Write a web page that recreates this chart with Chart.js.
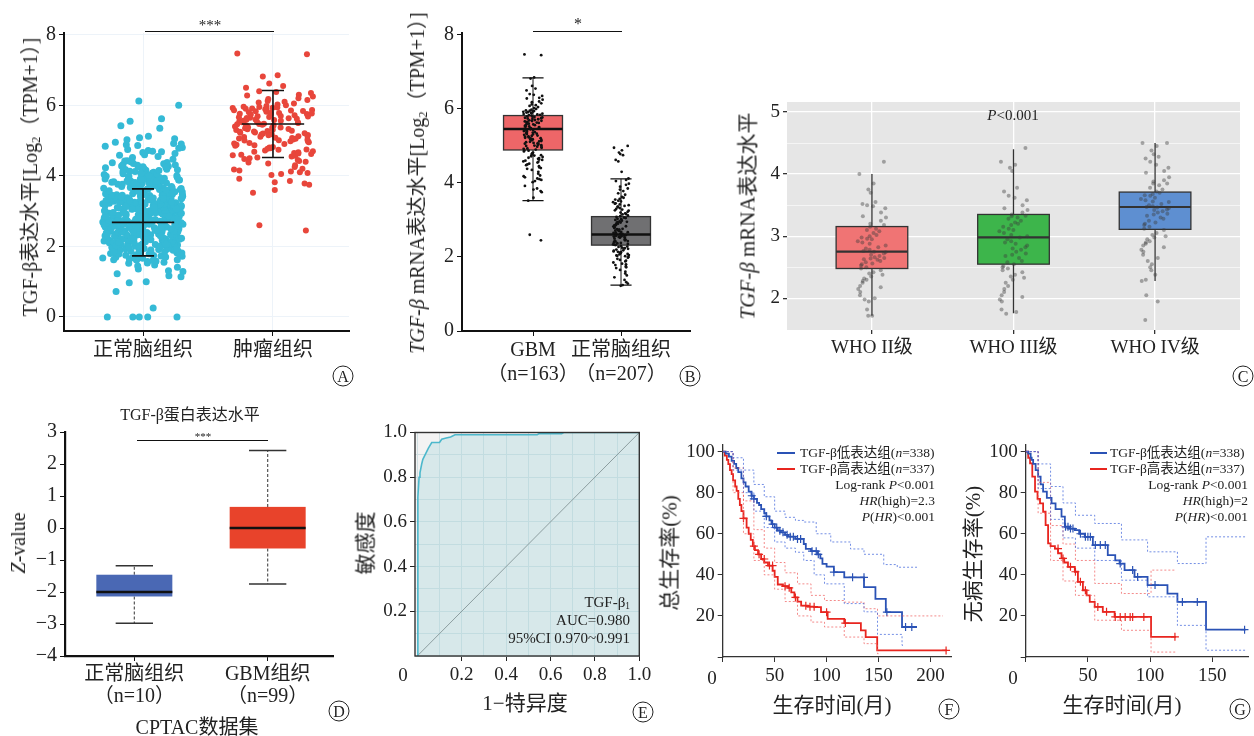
<!DOCTYPE html>
<html><head><meta charset="utf-8">
<script src="https://cdn.jsdelivr.net/npm/chart.js@4.4.0/dist/chart.umd.min.js"></script>
<style>
html,body{margin:0;padding:0;background:#fff;}
#root{position:relative;width:1254px;height:736px;overflow:hidden;font-family:'Liberation Serif','Noto Sans CJK SC',serif;color:#222;}
canvas{position:absolute;}
.t{position:absolute;white-space:nowrap;line-height:1;}
.rot{transform:translate(-50%,-50%) rotate(-90deg);}
.c{transform:translate(-50%,-50%);}
.r{transform:translate(-100%,-50%);}
.l{transform:translate(0,-50%);}
.circ{position:absolute;width:21px;height:21px;border:1.3px solid #222;border-radius:50%;box-sizing:border-box;font-size:16px;line-height:19px;text-align:center;transform:translate(-50%,-50%);font-family:'Liberation Serif',serif;}
.hl{position:absolute;height:0;border-top:1.8px solid #111;}
sub{font-size:0.62em;vertical-align:-0.25em;line-height:0;}
</style></head><body><div id="root">
<!-- Panel A texts -->
<div class="t c" style="left:210px;top:25px;font-size:15px;">***</div>
<div class="hl" style="left:145px;top:31px;width:129px;"></div>
<div class="t rot" style="left:30px;top:177px;font-size:20px;">TGF-β表达水平[Log<sub>2</sub>（TPM+1）]</div>
<div class="circ" style="left:343px;top:376px;">A</div>
<!-- Panel B texts -->
<div class="t c" style="left:578px;top:24px;font-size:16px;">*</div>
<div class="hl" style="left:533px;top:31px;width:89px;"></div>
<div class="t rot" style="left:417px;top:183px;font-size:20px;"><i>TGF-β</i> mRNA表达水平[Log<sub>2</sub>（TPM+1）]</div>
<div class="circ" style="left:690px;top:376px;">B</div>
<!-- Panel C texts -->
<div class="t c" style="left:1013px;top:115px;font-size:15px;"><i>P</i>&lt;0.001</div>
<div class="t rot" style="left:748px;top:216px;font-size:21px;"><i>TGF-β</i> mRNA表达水平</div>
<div class="circ" style="left:1243px;top:376px;">C</div>
<!-- Panel D texts -->
<div class="t c" style="left:190px;top:415px;font-size:16px;">TGF-β蛋白表达水平</div>
<div class="t c" style="left:203px;top:436px;font-size:11px;">***</div>
<div class="hl" style="left:137px;top:440px;width:131px;"></div>
<div class="t rot" style="left:18px;top:543px;font-size:20px;"><i>Z</i>-value</div>
<div class="t c" style="left:197px;top:727px;font-size:20px;">CPTAC数据集</div>
<div class="circ" style="left:339px;top:711px;">D</div>
<!-- Panel E texts -->
<div class="t rot" style="left:366px;top:543px;font-size:21px;">敏感度</div>
<div class="t c" style="left:525px;top:703px;font-size:21px;">1−特异度</div>
<div class="t c" style="left:403px;top:674px;font-size:19px;">0</div>
<div class="t r" style="left:630px;top:602px;font-size:15px;">TGF-β<sub>1</sub></div>
<div class="t r" style="left:630px;top:620px;font-size:15px;">AUC=0.980</div>
<div class="t r" style="left:630px;top:638px;font-size:15px;">95%CI 0.970~0.991</div>
<div class="circ" style="left:643px;top:712px;">E</div>
<!-- Panel F texts -->
<div class="hl" style="left:777px;top:452px;width:18px;border-top:2px solid #2A52B5;"></div>
<div class="t l" style="left:800px;top:453px;font-size:13.5px;">TGF-β低表达组(<i>n</i>=338)</div>
<div class="hl" style="left:777px;top:468px;width:18px;border-top:2px solid #E8251F;"></div>
<div class="t l" style="left:800px;top:469px;font-size:13.5px;">TGF-β高表达组(<i>n</i>=337)</div>
<div class="t r" style="left:935px;top:485px;font-size:13.5px;">Log-rank <i>P</i>&lt;0.001</div>
<div class="t r" style="left:935px;top:501px;font-size:13.5px;"><i>HR</i>(high)=2.3</div>
<div class="t r" style="left:935px;top:517px;font-size:13.5px;"><i>P</i>(<i>HR</i>)&lt;0.001</div>
<div class="t rot" style="left:670px;top:553px;font-size:21px;">总生存率(%)</div>
<div class="t c" style="left:832px;top:705px;font-size:21px;">生存时间(月)</div>
<div class="t c" style="left:712px;top:677px;font-size:19px;">0</div>
<div class="circ" style="left:949px;top:709px;">F</div>
<!-- Panel G texts -->
<div class="hl" style="left:1090px;top:452px;width:17px;border-top:2px solid #2A52B5;"></div>
<div class="t l" style="left:1110px;top:453px;font-size:13.5px;">TGF-β低表达组(<i>n</i>=338)</div>
<div class="hl" style="left:1090px;top:468px;width:17px;border-top:2px solid #E8251F;"></div>
<div class="t l" style="left:1110px;top:469px;font-size:13.5px;">TGF-β高表达组(<i>n</i>=337)</div>
<div class="t r" style="left:1248px;top:485px;font-size:13.5px;">Log-rank <i>P</i>&lt;0.001</div>
<div class="t r" style="left:1248px;top:501px;font-size:13.5px;"><i>HR</i>(high)=2</div>
<div class="t r" style="left:1248px;top:517px;font-size:13.5px;"><i>P</i>(<i>HR</i>)&lt;0.001</div>
<div class="t rot" style="left:973px;top:554px;font-size:21px;">无病生存率(%)</div>
<div class="t c" style="left:1122px;top:705px;font-size:21px;">生存时间(月)</div>
<div class="t c" style="left:1013px;top:677px;font-size:19px;">0</div>
<div class="circ" style="left:1240px;top:709px;">G</div>
</div>
<script>
// ---------------- DATA ----------------
// Panel A
const catA = ['正常脑组织', '肿瘤组织'];
const normalA = [0,0,0,0,0,0.25,0.72,0.97,1.0,1.14,1.17,1.22,1.29,1.31,1.36,1.41,1.44,1.47,
1.52,1.55,1.57,1.58,1.61,1.62,1.64,1.66,1.67,1.69,1.71,1.72,1.73,1.75,1.76,1.78,1.79,1.81,1.82,1.83,1.85,1.86,1.87,1.88,1.9,1.91,1.92,1.93,1.94,1.95,1.96,1.97,1.98,1.99,1.53,
2.0,2.03,2.03,2.05,2.06,2.09,2.1,2.1,2.12,2.15,2.16,2.17,2.19,2.2,2.22,2.23,2.25,2.26,2.28,2.3,2.31,2.33,2.34,2.35,2.37,2.38,2.4,2.41,2.43,2.44,2.46,2.47,2.48,2.49,2.01,2.04,2.07,2.11,2.13,2.18,2.21,2.24,2.27,2.29,2.32,2.36,2.39,2.42,2.45,2.02,2.08,2.14,2.19,2.28,2.38,
2.5,2.51,2.53,2.54,2.55,2.57,2.58,2.59,2.6,2.62,2.63,2.64,2.66,2.67,2.68,2.69,2.7,2.72,2.73,2.74,2.75,2.77,2.78,2.79,2.8,2.82,2.83,2.84,2.86,2.87,2.88,2.89,2.9,2.92,2.93,2.94,2.95,2.97,2.98,2.99,2.52,2.56,2.61,2.65,2.71,2.76,2.81,2.85,2.91,2.96,2.54,2.62,2.69,2.74,2.79,2.87,2.93,2.58,2.66,2.83,
3.0,3.01,3.03,3.04,3.05,3.07,3.08,3.1,3.11,3.12,3.14,3.15,3.17,3.18,3.2,3.21,3.22,3.24,3.25,3.27,3.28,3.3,3.31,3.32,3.34,3.35,3.37,3.38,3.4,3.41,3.43,3.44,3.46,3.47,3.49,3.02,3.06,3.09,3.13,3.16,3.19,3.23,3.26,3.29,3.33,3.36,3.39,3.42,3.45,3.48,3.05,3.15,3.25,3.35,3.45,
3.5,3.52,3.53,3.55,3.57,3.58,3.6,3.62,3.63,3.65,3.67,3.68,3.7,3.72,3.73,3.75,3.77,3.78,3.8,3.82,3.83,3.85,3.87,3.88,3.9,3.92,3.93,3.95,3.97,3.99,3.54,3.61,3.66,3.71,3.76,3.81,3.86,3.91,3.96,3.64,
4.0,4.02,4.04,4.06,4.08,4.1,4.12,4.14,4.16,4.18,4.2,4.22,4.25,4.27,4.3,4.32,4.35,4.37,4.4,4.42,4.45,4.47,4.03,4.13,4.28,
4.52,4.55,4.6,4.63,4.68,4.72,4.75,4.8,4.84,4.88,4.92,4.95,
5.02,5.05,5.08,5.12,5.35,5.42,5.55,5.62,6.0,6.12,
1.6,1.63,1.68,1.74,1.77,1.8,1.84,1.89,1.93,1.96,1.62,1.7,1.86,1.9,1.98,
2.0,2.02,2.05,2.07,2.09,2.12,2.14,2.16,2.18,2.2,2.21,2.23,2.25,2.27,2.29,2.3,2.32,2.34,2.36,2.37,2.39,2.41,2.43,2.45,2.47,2.49,2.06,2.15,2.24,2.33,2.42,2.48,2.11,2.26,2.4,
2.5,2.52,2.53,2.55,2.57,2.59,2.6,2.62,2.64,2.65,2.67,2.69,2.7,2.72,2.74,2.75,2.77,2.79,2.8,2.82,2.84,2.85,2.87,2.89,2.9,2.92,2.94,2.95,2.97,2.99,2.51,2.56,2.61,2.66,2.71,2.76,2.81,2.86,2.91,2.96,2.54,2.63,2.73,2.83,2.93,
3.0,3.02,3.04,3.05,3.07,3.09,3.1,3.12,3.14,3.15,3.17,3.19,3.2,3.22,3.24,3.25,3.27,3.29,3.3,3.32,3.34,3.35,3.37,3.39,3.4,3.42,3.44,3.45,3.47,3.49,3.01,3.11,3.21,3.31,3.41,3.06,3.16,3.26,3.36,3.46,
3.5,3.53,3.56,3.58,3.61,3.63,3.66,3.68,3.71,3.73,3.76,3.78,3.81,3.83,3.86,3.88,3.91,3.93,3.96,3.98,3.55,3.65,3.75,3.85,3.95,3.6,3.7,3.8,3.9,3.52,
4.01,4.05,4.09,4.11,4.15,4.19,4.23,4.26,4.31,4.34,4.38,4.43,4.07,4.17,4.24,
4.58,4.66,4.7,4.78,4.86,4.9];
const tumorA = [7.45,7.47,6.85,6.82,6.62,6.55,6.5,6.4,6.38,6.35,6.3,6.28,6.25,6.2,6.18,6.15,6.12,6.1,6.08,6.05,6.02,6.0,
5.98,5.96,5.95,5.93,5.92,5.9,5.88,5.87,5.85,5.83,5.82,5.8,5.78,5.77,5.75,5.73,5.72,5.7,5.68,5.67,5.65,5.63,5.62,5.6,5.58,5.57,5.55,5.53,5.52,5.5,5.94,5.89,5.84,5.79,5.74,5.69,5.64,5.59,5.54,5.51,5.86,5.76,5.66,5.56,5.91,
5.48,5.47,5.45,5.43,5.42,5.4,5.38,5.37,5.35,5.33,5.32,5.3,5.28,5.27,5.25,5.23,5.22,5.2,5.18,5.17,5.15,5.13,5.12,5.1,5.08,5.07,5.05,5.03,5.02,5.0,5.46,5.36,5.26,5.16,5.06,5.41,5.31,5.21,5.11,5.01,
4.98,4.95,4.93,4.9,4.88,4.85,4.82,4.8,4.78,4.75,4.72,4.7,4.68,4.65,4.62,4.6,4.58,4.55,4.52,4.5,4.97,4.87,4.77,4.67,4.57,4.92,4.74,4.63,
4.48,4.45,4.42,4.38,4.35,4.3,4.25,4.2,4.15,4.12,4.1,4.08,4.05,4.02,4.4,4.18,
3.92,3.85,3.82,3.78,3.75,3.6,3.52,2.6,2.45];
const meanA = [2.68, 5.47];
const sdLowA = [1.73, 4.52];
const sdHighA = [3.63, 6.42];

// Panel B
const catB = [['GBM', '（n=163）'], ['正常脑组织', '（n=207）']];
const gbmB = tumorA; // same TCGA GBM samples
const normalB = [5.0,4.95,4.88,4.82,4.78,4.75,4.62,4.58,4.3,4.12,4.08,4.05,
3.98,3.95,3.9,3.85,3.82,3.78,3.72,3.68,3.62,3.6,3.57,3.55,3.52,3.5,
3.48,3.45,3.42,3.4,3.38,3.35,3.32,3.3,3.28,3.25,3.22,3.2,3.18,3.15,3.12,3.1,3.08,3.06,3.05,3.03,3.02,3.0,3.44,3.36,3.26,3.16,
2.98,2.96,2.95,2.93,2.92,2.9,2.88,2.86,2.85,2.83,2.82,2.8,2.78,2.76,2.75,2.73,2.72,2.7,2.68,2.66,2.65,2.63,2.62,2.6,2.58,2.57,2.55,2.53,2.52,2.5,2.94,2.84,2.74,2.64,2.54,2.61,2.67,2.59,2.71,2.56,
2.48,2.47,2.45,2.43,2.42,2.4,2.38,2.37,2.35,2.33,2.32,2.3,2.28,2.27,2.25,2.23,2.22,2.2,2.18,2.17,2.15,2.13,2.12,2.1,2.08,2.07,2.05,2.03,2.02,2.0,2.44,2.34,2.24,2.14,2.04,
1.98,1.95,1.92,1.9,1.88,1.85,1.82,1.8,1.78,1.75,1.72,1.7,1.65,1.6,1.55,1.5,
1.45,1.38,1.32,1.28,1.24,1.22];
const boxB = {q1: [4.89, 2.32], med: [5.46, 2.61], q3: [5.82, 3.09], lo: [3.52, 1.24], hi: [6.84, 4.11]};

// Panel C
const catC = ['WHO II级', 'WHO III级', 'WHO IV级'];
const who2 = [4.2,4.0,3.85,3.75,3.7,3.55,3.52,3.5,3.48,3.45,3.38,3.32,3.3,3.25,3.2,3.18,3.15,3.12,3.1,3.08,3.05,3.02,3.0,2.98,2.96,2.95,2.92,2.9,2.88,2.85,2.82,2.8,2.78,2.76,2.75,2.74,2.72,2.7,2.68,2.66,2.65,2.64,2.63,2.62,2.6,2.58,2.56,2.55,2.53,2.5,2.48,2.45,2.42,2.4,2.38,2.35,2.32,2.3,2.28,2.25,2.2,2.18,2.15,2.1,2.05,2.0,1.98,1.95,1.82,1.72,1.72];
const who3 = [4.42,4.2,4.15,4.1,4.05,3.78,3.72,3.65,3.62,3.58,3.5,3.45,3.42,3.38,3.35,3.33,3.32,3.3,3.28,3.25,3.22,3.2,3.18,3.15,3.12,3.1,3.08,3.05,3.02,3.0,2.98,2.95,2.92,2.9,2.88,2.85,2.82,2.8,2.78,2.75,2.72,2.7,2.68,2.65,2.6,2.58,2.55,2.52,2.5,2.48,2.45,2.42,2.38,2.35,2.33,2.3,2.25,2.2,2.15,2.1,2.05,2.02,1.98,1.95,1.82,1.78,1.75];
const who4 = [4.5,4.5,4.45,4.38,4.32,4.28,4.25,4.2,4.15,4.1,4.05,4.02,3.95,3.9,3.88,3.85,3.85,3.82,3.78,3.75,3.72,3.7,3.68,3.66,3.65,3.62,3.6,3.58,3.56,3.55,3.52,3.5,3.48,3.47,3.46,3.45,3.43,3.42,3.4,3.38,3.36,3.35,3.33,3.3,3.28,3.25,3.22,3.2,3.18,3.15,3.12,3.1,3.05,3.02,3.0,2.98,2.95,2.92,2.9,2.88,2.85,2.82,2.78,2.75,2.7,2.65,2.6,2.55,2.5,2.45,2.38,2.3,2.28,2.05,1.95,1.65];
const boxC = {q1: [2.48, 2.55, 3.11], med: [2.75, 2.98, 3.47], q3: [3.155, 3.35, 3.71], lo: [1.72, 1.76, 2.28], hi: [4.0, 4.4, 4.5]};

// Panel D
const catD = [['正常脑组织', '（n=10）'], ['GBM组织', '（n=99）']];
const boxD = {q1: [-2.14, -0.64], med: [-2.0, 0.0], q3: [-1.46, 0.66], lo: [-2.98, -1.75], hi: [-1.18, 2.42]};

// Panel E (ROC)
const rocFPR = [0,0.002,0.003,0.008,0.012,0.02,0.025,0.035,0.05,0.065,0.1,0.11,0.13,0.15,0.17,0.54,0.55,0.65,0.66,1];
const rocTPR = [0,0.5,0.71,0.8,0.82,0.86,0.88,0.9,0.93,0.955,0.955,0.97,0.975,0.98,0.99,0.99,0.995,0.995,1,1];

// Panel F (overall survival) [months, %]
const osLow = [[0,100],[3,99],[6,97.5],[8.6,95.5],[11,94],[13,92],[15,90],[18,87],[20,85],[22,83],[25,80.5],[27.7,78.5],[30,77],[33,75],[35,74],[37,72],[40,70],[42,68.5],[45,66.5],[47,64.7],[50,63],[53,61.5],[56,60.7],[60,59.5],[63,58.6],[70,57.5],[78,55],[80,52.6],[85,51.5],[91,50],[94,48],[96,45.3],[100,44],[107,41.3],[117,38.8],[136,34],[147,28.3],[157,21.8],[172.6,14.6],[187,14.6]];
const osHigh = [[0,100],[2,98],[4,96],[5.4,93.9],[7,91],[8.6,89],[10,86],[12,83],[13.4,80.9],[15,77],[16.5,74],[18,71],[20,67.5],[23,63],[25,60],[27,57],[29,54],[31,52],[34,50],[37,47.7],[40,46],[43.6,44.5],[48,42],[50,39],[53,35.3],[58,34.5],[63,33.7],[66,31.5],[69,29],[72,27],[75.5,25],[82,24.5],[88,24.3],[94.6,21.8],[101,18.6],[117,16.5],[133,13],[137.6,9.7],[148.7,3.2],[215.6,3.2]];
const osLowUp = [[0,100],[10,97],[20,91],[30,84],[40,78],[50,71],[60,68],[70,66.5],[78,65.7],[90,60],[104,56],[123,52.6],[136,50],[155,45],[168,43.7],[187,43.7]];
const osLowDn = [[0,100],[10,91],[20,80],[30,71],[40,63],[50,56],[60,53],[70,51],[78,47],[88,40],[98,35.6],[117,26],[136,22],[149,11],[172.6,5.7],[175,5.7]];
const osHighUp = [[0,100],[10,92],[20,76],[30,62],[40,53],[50,46],[60,41],[72,35.6],[85,30],[98,27.5],[117,26.7],[136,23.5],[149,20],[212,20]];
const osHighDn = [[0,100],[10,80],[20,60],[30,47],[40,40],[50,33],[60,27],[72,20],[85,17],[98,14.6],[117,9.7],[136,6.5],[149,1.6],[152,1.6]];
const osLowCens = [[28,78.5],[30,77],[42,68.5],[48,64.7],[52,63],[55,61.5],[58,60.7],[62,59.5],[65,58.6],[68,58.6],[72,57.5],[75,57.5],[86,51.5],[90,51.5],[92,50],[107,41.3],[125,38.8],[136,38.8],[158,21.8],[176,14.6],[182,14.6]];
const osHighCens = [[20,67.5],[30,54],[35,50],[40,47.7],[45,44.5],[48,44.5],[60,34.5],[64,33.7],[70,29],[80,25],[84,24.5],[88,24.5],[100,21.8],[118,16.5],[215,3.2]];

// Panel G (disease-free survival) [months, %]
const dfsLow = [[0,100],[2,99],[4,97],[4.8,96],[6,94],[8,91],[10,87.8],[12,84],[14,80.5],[17,77.5],[20.8,74.8],[24,72],[28.8,68.3],[31.5,63.4],[35,62.5],[39.5,61.8],[43,60],[47.5,58.5],[54,54.5],[66,49.6],[72,47],[75.5,45.5],[79.5,42.3],[87.5,39],[98,35],[114,30.9],[122,26.8],[145,13.3],[176.8,13.3]];
const dfsHigh = [[0,100],[2,97],[3.5,94.3],[5.3,87.8],[7.5,80.5],[9.5,77],[11.5,74.8],[14,70.7],[16,64.2],[18,55.3],[20,54],[23.5,52.8],[26,50.5],[28.8,48],[31,46],[34,43.9],[39.5,41.5],[42,36.6],[46,32.5],[49,30],[51.5,26.8],[55.5,24.4],[62,22],[71.5,19.5],[100.8,9.8],[120.8,9.8]];
const dfsLowUp = [[0,100],[10,94],[20,83],[30,75],[40,69],[55.5,65],[77,57],[98,51.2],[122,45.5],[145,58.5],[176.8,58.5]];
const dfsLowDn = [[0,100],[10,82],[20,67],[30,58],[40,53],[55.5,47],[77,37.4],[98,29.3],[122,15.4],[145,3.3],[176.8,3.3]];
const dfsHighUp = [[0,100],[10,85],[20,64],[30,55],[40,47],[55.5,35.8],[77,30.9],[100.8,42.3],[120.8,42.3]];
const dfsHighDn = [[0,100],[10,70],[20,47],[30,37],[40,30],[55.5,17.9],[77,13],[100.8,2.4],[120.8,2.4]];
const dfsLowCens = [[32,63.4],[34,63.4],[36,62.5],[38,62.5],[44,60],[48,58.5],[50,58.5],[52,58.5],[56,54.5],[60,54.5],[64,54.5],[76,45.5],[86,42.3],[90,39],[104,35],[126,26.8],[138,26.8],[176,13.3]];
const dfsHighCens = [[26,52.8],[30,48],[36,43.9],[40,41.5],[44,36.6],[48,32.5],[58,24.4],[65,22],[72,19.5],[76,19.5],[80,19.5],[84,19.5],[86,19.5],[95,19.5],[120,9.8]];

// ---------------- HELPERS ----------------
const root = document.getElementById('root');
const FF = "'Liberation Serif','Noto Sans CJK SC',serif";
Chart.defaults.font.family = FF;
Chart.defaults.color = '#222';
// deterministic horizontal jitter (layout only, not data)
const jit = i => { const s = Math.sin((i + 1) * 12.9898) * 43758.5453; return (s - Math.floor(s)) * 2 - 1; };
const pts = (vals, cx, w) => vals.map((v, i) => ({x: cx + jit(i) * w, y: v}));
const xy = arr => arr.map(p => ({x: p[0], y: p[1]}));
const ticksAt = vals => (s => { s.ticks = vals.map(v => ({value: v})); });

function mk(box, area, xs, ys, datasets, plugins) {
  const [L, T, W, H] = box, [l, t, r, b] = area;
  const cv = document.createElement('canvas');
  cv.width = W; cv.height = H;
  cv.style.left = L + 'px'; cv.style.top = T + 'px';
  cv.style.width = W + 'px'; cv.style.height = H + 'px';
  root.insertBefore(cv, root.firstChild);
  xs.afterFit = s => { s.height = (T + H) - b; };
  ys.afterFit = s => { s.width = l - L; };
  return new Chart(cv, {
    type: 'scatter',
    data: {datasets},
    options: {
      responsive: false, animation: false, devicePixelRatio: 1, events: [],
      layout: {padding: {left: 0, top: t - T, right: (L + W) - r, bottom: 0}},
      plugins: {legend: {display: false}, tooltip: {enabled: false}},
      scales: {
        x: Object.assign({type: 'linear', position: 'bottom'}, xs),
        y: Object.assign({type: 'linear', position: 'left'}, ys)
      }
    },
    plugins: plugins || []
  });
}

function boxPlugin(id, st, o) {
  return {
    id,
    beforeDatasetsDraw(chart) {
      const {ctx, scales: {x, y}} = chart;
      ctx.save();
      st.q1.forEach((_, i) => {
        const cx = i + 1;
        const xl = x.getPixelForValue(cx - o.half), xr = x.getPixelForValue(cx + o.half), xc = x.getPixelForValue(cx);
        const p = v => y.getPixelForValue(v);
        ctx.strokeStyle = o.wColor; ctx.lineWidth = o.wWidth; ctx.setLineDash(o.dash || []);
        ctx.beginPath();
        ctx.moveTo(xc, p(st.q3[i])); ctx.lineTo(xc, p(st.hi[i]));
        ctx.moveTo(xc, p(st.q1[i])); ctx.lineTo(xc, p(st.lo[i]));
        ctx.stroke(); ctx.setLineDash([]);
        if (o.cap) {
          const c1 = x.getPixelForValue(cx - o.cap), c2 = x.getPixelForValue(cx + o.cap);
          ctx.strokeStyle = o.capColor || o.wColor; ctx.lineWidth = o.capWidth || o.wWidth;
          ctx.beginPath();
          ctx.moveTo(c1, p(st.hi[i])); ctx.lineTo(c2, p(st.hi[i]));
          ctx.moveTo(c1, p(st.lo[i])); ctx.lineTo(c2, p(st.lo[i]));
          ctx.stroke();
        }
        ctx.fillStyle = o.fill[i];
        ctx.fillRect(xl, p(st.q3[i]), xr - xl, p(st.q1[i]) - p(st.q3[i]));
        if (o.stroke) {
          ctx.strokeStyle = o.stroke; ctx.lineWidth = o.strokeWidth;
          ctx.strokeRect(xl, p(st.q3[i]), xr - xl, p(st.q1[i]) - p(st.q3[i]));
        }
        ctx.strokeStyle = o.medColor; ctx.lineWidth = o.medWidth;
        ctx.beginPath(); ctx.moveTo(xl, p(st.med[i])); ctx.lineTo(xr, p(st.med[i])); ctx.stroke();
      });
      ctx.restore();
    }
  };
}
const bgPlugin = (id, color) => ({
  id, beforeDraw(chart) {
    const a = chart.chartArea, ctx = chart.ctx;
    ctx.save(); ctx.fillStyle = color; ctx.fillRect(a.left, a.top, a.right - a.left, a.bottom - a.top); ctx.restore();
  }
});
const tickFont = s => ({size: s, family: FF});

// ---------------- PANEL A ----------------
mk([0, 0, 362, 392], [64, 33, 349, 331],
  {min: 0.392, max: 2.585, afterBuildTicks: ticksAt([1, 2]),
   ticks: {callback: v => catA[v - 1], font: tickFont(20), color: '#222', padding: 3},
   grid: {color: '#EDF3F9', tickColor: '#111', tickLength: 5}, border: {color: '#111', width: 2}},
  {min: -0.4, max: 8.05, afterBuildTicks: ticksAt([0, 2, 4, 6, 8]),
   ticks: {font: tickFont(20), color: '#222', padding: 3},
   grid: {color: '#EDF3F9', tickColor: '#111', tickLength: 5}, border: {color: '#111', width: 2}},
  [
    {data: pts(normalA, 1, 0.31), backgroundColor: '#35BAD6', borderWidth: 0, pointRadius: 3.5},
    {data: pts(tumorA, 2, 0.31), backgroundColor: '#E8463B', borderWidth: 0, pointRadius: 3}
  ],
  [{id: 'errA', afterDatasetsDraw(chart) {
    const {ctx, scales: {x, y}} = chart;
    ctx.save(); ctx.strokeStyle = '#111'; ctx.lineWidth = 1.6;
    meanA.forEach((m, i) => {
      const cx = i + 1, xc = x.getPixelForValue(cx);
      const c1 = x.getPixelForValue(cx - 0.085), c2 = x.getPixelForValue(cx + 0.085);
      const m1 = x.getPixelForValue(cx - 0.24), m2 = x.getPixelForValue(cx + 0.24);
      ctx.beginPath();
      ctx.moveTo(xc, y.getPixelForValue(sdLowA[i])); ctx.lineTo(xc, y.getPixelForValue(sdHighA[i]));
      ctx.moveTo(c1, y.getPixelForValue(sdLowA[i])); ctx.lineTo(c2, y.getPixelForValue(sdLowA[i]));
      ctx.moveTo(c1, y.getPixelForValue(sdHighA[i])); ctx.lineTo(c2, y.getPixelForValue(sdHighA[i]));
      ctx.moveTo(m1, y.getPixelForValue(m)); ctx.lineTo(m2, y.getPixelForValue(m));
      ctx.stroke();
    });
    ctx.restore();
  }}]
);

// ---------------- PANEL B ----------------
mk([362, 0, 360, 392], [462, 33, 690, 331],
  {min: 0.193, max: 2.784, afterBuildTicks: ticksAt([1, 2]),
   ticks: {callback: v => catB[v - 1], font: Object.assign(tickFont(20), {lineHeight: 1.2}), color: '#222', padding: 3},
   grid: {drawOnChartArea: false, tickColor: '#111', tickLength: 5}, border: {color: '#111', width: 2}},
  {min: 0, max: 8.05, afterBuildTicks: ticksAt([0, 2, 4, 6, 8]),
   ticks: {font: tickFont(20), color: '#222', padding: 3},
   grid: {drawOnChartArea: false, tickColor: '#111', tickLength: 5}, border: {color: '#111', width: 2}},
  [
    {data: pts(gbmB, 1, 0.11), backgroundColor: '#111', borderWidth: 0, pointRadius: 1.4},
    {data: pts(normalB, 2, 0.09), backgroundColor: '#111', borderWidth: 0, pointRadius: 1.4}
  ],
  [boxPlugin('boxB', boxB, {half: 0.335, cap: 0.12, fill: ['#EE6668', '#707072'], stroke: '#333', strokeWidth: 1.3,
    wColor: '#111', wWidth: 1, capWidth: 1.3, medColor: '#111', medWidth: 2.5})]
);

// ---------------- PANEL C ----------------
mk([722, 80, 532, 310], [787, 102, 1240, 330],
  {min: 0.4, max: 3.6, afterBuildTicks: ticksAt([1, 2, 3]),
   ticks: {callback: v => catC[v - 1], font: tickFont(19), color: '#222', padding: 3},
   grid: {color: '#FFFFFF', lineWidth: 1.3, tickColor: '#333', tickLength: 4}, border: {display: false}},
  {min: 1.49, max: 5.16, afterBuildTicks: ticksAt([2, 2.5, 3, 3.5, 4, 4.5, 5]),
   ticks: {callback: v => (v % 1 ? '' : v), font: tickFont(19), color: '#222', padding: 3},
   grid: {color: '#FFFFFF', lineWidth: c => (c.tick && c.tick.value % 1 ? 0.6 : 1.3),
          tickColor: c => (c.tick && c.tick.value % 1 ? 'rgba(0,0,0,0)' : '#333'), tickLength: 4},
   border: {display: false}},
  [
    {data: pts(who2, 1, 0.1), backgroundColor: 'rgba(60,60,60,0.42)', borderWidth: 0, pointRadius: 2},
    {data: pts(who3, 2, 0.1), backgroundColor: 'rgba(60,60,60,0.42)', borderWidth: 0, pointRadius: 2},
    {data: pts(who4, 3, 0.1), backgroundColor: 'rgba(60,60,60,0.42)', borderWidth: 0, pointRadius: 2}
  ],
  [bgPlugin('bgC', '#E6E6E6'),
   boxPlugin('boxC', boxC, {half: 0.253, fill: ['#F07474', '#3DB54B', '#5E8FD1'], stroke: '#333', strokeWidth: 1.3,
    wColor: '#333', wWidth: 1.3, medColor: '#333', medWidth: 2.2})]
);

// ---------------- PANEL D ----------------
mk([0, 400, 362, 336], [65, 432, 333, 656],
  {min: 0.48, max: 2.49, afterBuildTicks: ticksAt([1, 2]),
   ticks: {callback: v => catD[v - 1], font: Object.assign(tickFont(20), {lineHeight: 1.1}), color: '#222', padding: 3},
   grid: {drawOnChartArea: false, tickColor: '#111', tickLength: 5}, border: {color: '#111', width: 2.2}},
  {min: -4, max: 3, afterBuildTicks: ticksAt([-4, -3, -2, -1, 0, 1, 2, 3]),
   ticks: {callback: v => (v < 0 ? '−' + Math.abs(v) : v), font: tickFont(20), color: '#222', padding: 3},
   grid: {drawOnChartArea: false, tickColor: '#111', tickLength: 5}, border: {color: '#111', width: 2.2}},
  [],
  [boxPlugin('boxD', boxD, {half: 0.285, cap: 0.14, fill: ['#4A68B4', '#E8432B'],
    wColor: '#555', wWidth: 1.2, dash: [3, 2], capColor: '#333', capWidth: 1.5, medColor: '#111', medWidth: 2.5})]
);

// ---------------- PANEL E ----------------
const tenth = [0, 1, 2, 3, 4, 5, 6, 7, 8, 9, 10].map(i => i / 10);
const labE = v => { const k = Math.round(v * 10); return (k > 0 && k % 2 === 0) ? (k / 10).toFixed(1) : ''; };
const tcE = c => { const k = Math.round(c.tick.value * 10); return (k > 0 && k % 2 === 0) ? '#222' : 'rgba(0,0,0,0)'; };
mk([362, 410, 303, 326], [415, 432.5, 639.3, 656],
  {min: -0.0104, max: 1, afterBuildTicks: ticksAt(tenth),
   ticks: {callback: labE, font: tickFont(19), color: '#222', padding: 3, maxRotation: 0, minRotation: 0, autoSkip: false},
   grid: {color: '#D0DFE2', tickColor: tcE, tickLength: 5}, border: {display: false}},
  {min: 0, max: 1, afterBuildTicks: ticksAt(tenth),
   ticks: {callback: labE, font: tickFont(19), color: '#222', padding: 3, autoSkip: false},
   grid: {color: '#D0DFE2', tickColor: tcE, tickLength: 5}, border: {display: false}},
  [
    {type: 'line', data: rocFPR.map((f, i) => ({x: f, y: rocTPR[i]})), borderColor: '#4DB8CC', borderWidth: 1.6,
     pointRadius: 0, fill: 'origin', backgroundColor: 'rgba(170,215,222,0.38)', tension: 0},
    {type: 'line', data: [{x: 0, y: 0}, {x: 1, y: 1}], borderColor: '#7A7A7A', borderWidth: 1, pointRadius: 0, fill: false}
  ],
  [bgPlugin('bgE', '#F3F3F3'), {id: 'frameE', afterDatasetsDraw(chart) {
    const a = chart.chartArea, ctx = chart.ctx;
    ctx.save(); ctx.strokeStyle = '#333'; ctx.lineWidth = 1.4;
    ctx.strokeRect(a.left, a.top, a.right - a.left, a.bottom - a.top); ctx.restore();
  }}]
);

// ---------------- PANELS F & G ----------------
const kmSets = (lo, hi, loU, loD, hiU, hiD, loC, hiC) => [
  {type: 'line', data: xy(loU), stepped: true, borderColor: 'rgba(70,105,220,0.75)', borderWidth: 1, borderDash: [2, 2], pointRadius: 0, fill: false},
  {type: 'line', data: xy(loD), stepped: true, borderColor: 'rgba(70,105,220,0.75)', borderWidth: 1, borderDash: [2, 2], pointRadius: 0, fill: false},
  {type: 'line', data: xy(hiU), stepped: true, borderColor: 'rgba(240,90,90,0.7)', borderWidth: 1, borderDash: [2, 2], pointRadius: 0, fill: false},
  {type: 'line', data: xy(hiD), stepped: true, borderColor: 'rgba(240,90,90,0.7)', borderWidth: 1, borderDash: [2, 2], pointRadius: 0, fill: false},
  {type: 'line', data: xy(lo), stepped: true, borderColor: '#2A52B5', borderWidth: 1.8, pointRadius: 0, fill: false},
  {type: 'line', data: xy(hi), stepped: true, borderColor: '#E8251F', borderWidth: 1.8, pointRadius: 0, fill: false},
  {data: xy(loC), pointStyle: 'cross', pointRadius: 4, borderColor: '#2A52B5', borderWidth: 1.2, backgroundColor: '#2A52B5'},
  {data: xy(hiC), pointStyle: 'cross', pointRadius: 4, borderColor: '#E8251F', borderWidth: 1.2, backgroundColor: '#E8251F'}
];
const kmY = {min: 0, max: 103.5, afterBuildTicks: ticksAt([0, 20, 40, 60, 80, 100]),
  ticks: {callback: v => (v === 0 ? '' : v), font: tickFont(19), color: '#222', padding: 3},
  grid: {drawOnChartArea: false, tickColor: '#333', tickLength: 5}, border: {color: '#333', width: 1.3}};
mk([665, 430, 292, 306], [722.7, 443.3, 953.3, 657],
  {min: 0, max: 220.5, afterBuildTicks: ticksAt([0, 50, 100, 150, 200]),
   ticks: {callback: v => (v === 0 ? '' : v), font: tickFont(19), color: '#222', padding: 3},
   grid: {drawOnChartArea: false, tickColor: '#333', tickLength: 5}, border: {color: '#333', width: 1.3}},
  Object.assign({}, kmY),
  kmSets(osLow, osHigh, osLowUp, osLowDn, osHighUp, osHighDn, osLowCens, osHighCens)
);
mk([957, 430, 297, 306], [1025.7, 443.3, 1250, 657],
  {min: 0, max: 179.4, afterBuildTicks: ticksAt([0, 50, 100, 150]),
   ticks: {callback: v => (v === 0 ? '' : v), font: tickFont(19), color: '#222', padding: 3},
   grid: {drawOnChartArea: false, tickColor: '#333', tickLength: 5}, border: {color: '#333', width: 1.3}},
  Object.assign({}, kmY),
  kmSets(dfsLow, dfsHigh, dfsLowUp, dfsLowDn, dfsHighUp, dfsHighDn, dfsLowCens, dfsHighCens)
);
</script>
</body></html>
